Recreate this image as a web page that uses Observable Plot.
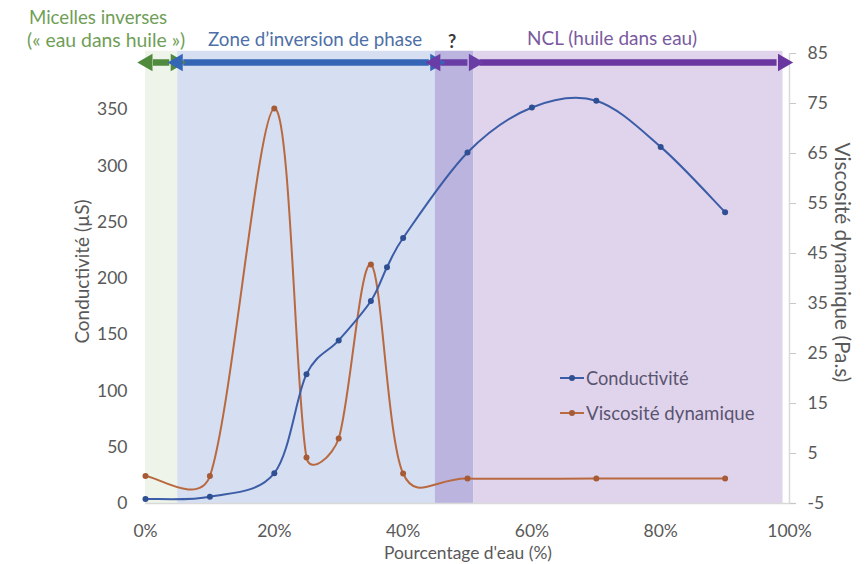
<!DOCTYPE html>
<html><head><meta charset="utf-8">
<script src="https://cdn.jsdelivr.net/npm/d3@7"></script>
<script src="https://cdn.jsdelivr.net/npm/@observablehq/plot@0.6"></script>
<style>
body{margin:0;background:#fff;font-family:Lato,"Open Sans",sans-serif;}
#wrap{position:relative;width:867px;height:564px;overflow:hidden;}
#wrap svg{position:absolute;left:0;top:0;}
.t{position:absolute;white-space:nowrap;line-height:1;font-size:20px;}
.leg{position:absolute;white-space:nowrap;color:#5a5470;display:flex;align-items:center;line-height:1;}
.sw{position:relative;width:24px;height:2px;margin-right:2px;}
.sw i{position:absolute;left:9px;top:-2px;width:6px;height:6px;border-radius:3px;}
</style></head><body>
<div id="wrap"></div>
<script>
// ---- data ----
const waterPct     = [0, 10, 20, 25, 30, 35, 37.5, 40, 50, 60, 70, 80, 90];
const conductivity = [4, 6, 27, 115, 145, 180, 210, 236, 312, 352, 358, 317, 259];
const viscPct      = [0, 10, 20, 25, 30, 35, 40, 50, 70, 90];
const viscosity    = [0.5, 0.5, 74, 4.2, 8, 42.8, 1, 0, 0, 0];
const leftTicks    = [0, 50, 100, 150, 200, 250, 300, 350];
const rightTicks   = [-5, 5, 15, 25, 35, 45, 55, 65, 75, 85];
const xTicks       = [0, 20, 40, 60, 80, 100];
const zoneStart    = [0, 5, 45, 51];
const zoneEnd      = [5, 45, 51, 99];
const arrowStart   = [0.3, 5, 45, 51];
const arrowEnd     = [4.7, 45, 51, 99];
const arrowBoth    = [true, true, true, false];

// ---- styles ----
const zoneFill  = ["#eef4e9", "#d6def1", "#bbb4de", "#e0d4ec"];
const arrowCol  = ["#4f8a3d", "#3566b6", "#6a3da6", "#6a36a0"];
const blue = "#3b5ca6", orange = "#b8693f";
const yMax = 400, rMin = -5, rMax = 85;
const toLeft = v => (v - rMin) * yMax / (rMax - rMin);
const arrowY = 392;

// Excel-like smoothed line: Bezier with 1/6 chord tangents, limited to half the segment
function excelSmooth(context) {
  let pts = [];
  return {
    areaStart() {}, areaEnd() {},
    lineStart() { pts = []; },
    point(x, y) { pts.push([+x, +y]); },
    lineEnd() {
      const n = pts.length;
      if (!n) return;
      context.moveTo(pts[0][0], pts[0][1]);
      const f = 1 / 6;
      const tan = pts.map((p, i) => {
        const a = pts[Math.max(i - 1, 0)], b = pts[Math.min(i + 1, n - 1)];
        return [(b[0] - a[0]) * f, (b[1] - a[1]) * f];
      });
      for (let i = 0; i < n - 1; i++) {
        const p = pts[i], q = pts[i + 1];
        const d = Math.hypot(q[0] - p[0], q[1] - p[1]);
        const lim = t => { const m = Math.hypot(t[0], t[1]); const s = m > d / 2 ? d / 2 / m : 1; return [t[0] * s, t[1] * s]; };
        const t1 = lim(tan[i]), t2 = lim(tan[i + 1]);
        context.bezierCurveTo(p[0] + t1[0], p[1] + t1[1], q[0] - t2[0], q[1] - t2[1], q[0], q[1]);
      }
    }
  };
}

const zones = zoneStart.map((s, i) => ({x1: s, x2: zoneEnd[i], fill: zoneFill[i]}));
const shafts = arrowStart.map((s, i) => ({x1: s, x2: arrowEnd[i], c: arrowCol[i]}));
const heads = [];
arrowStart.forEach((s, i) => {
  heads.push({x: arrowEnd[i], rot: 90, c: arrowCol[i]});
  if (arrowBoth[i]) heads.push({x: s, rot: -90, c: arrowCol[i]});
});
const cond = waterPct.map((x, i) => ({x, y: conductivity[i]}));
const visc = viscPct.map((x, i) => ({x, y: toLeft(viscosity[i])}));

const chart = Plot.plot({
  width: 867, height: 564,
  marginTop: 53, marginBottom: 61, marginLeft: 145, marginRight: 78,
  style: {fontFamily: "Lato, 'Open Sans', sans-serif", fontSize: "17.5px", color: "#595959", background: "transparent"},
  x: {domain: [0, 100]},
  y: {domain: [0, yMax]},
  marks: [
    Plot.rectX(zones, {x1: "x1", x2: "x2", y1: 0, y2: 402, fill: d => d.fill}),
    Plot.ruleY([0], {x1: 0, x2: 101, stroke: "#d9d9d9", strokeWidth: 1.5}),
    Plot.ruleX([100], {y1: 0, y2: yMax, stroke: "#d9d9d9", strokeWidth: 1.5}),
    Plot.axisY(leftTicks, {anchor: "left", tickSize: 0, tickPadding: 18, label: null}),
    Plot.axisY(rightTicks.map(toLeft), {anchor: "right", tickSize: 6, tickPadding: 12, stroke: "#c8c8c8",
      tickFormat: v => String(Math.round(v * (rMax - rMin) / yMax + rMin)), label: null}),
    Plot.axisX(xTicks, {anchor: "bottom", tickSize: 0, tickPadding: 21, tickFormat: d => d + "%", label: null}),
    Plot.ruleY(shafts, {y: arrowY, x1: "x1", x2: "x2", stroke: d => d.c, strokeWidth: 6.5, insetLeft: 6, insetRight: 6}),
    Plot.dot(heads, {x: "x", y: arrowY, symbol: "triangle", rotate: "rot", r: 6.5, fill: d => d.c}),
    Plot.line(visc, {x: "x", y: "y", stroke: orange, strokeWidth: 2, curve: excelSmooth}),
    Plot.dot(visc, {x: "x", y: "y", r: 3, fill: "#a65a35"}),
    Plot.line(cond, {x: "x", y: "y", stroke: blue, strokeWidth: 2, curve: excelSmooth}),
    Plot.dot(cond, {x: "x", y: "y", r: 3, fill: "#2f4f93"})
  ]
});
const wrap = document.getElementById("wrap");
wrap.appendChild(chart);

// text placed by its left edge (or centre) and fitted to the reference width
function addText(txt, o) {
  const d = document.createElement("div");
  d.className = "t"; d.textContent = txt;
  d.style.color = o.color;
  if (o.weight) d.style.fontWeight = o.weight;
  wrap.appendChild(d);
  let fs = 20;
  if (o.w) { fs = 20 * o.w / d.offsetWidth; }
  if (o.fs) fs = o.fs;
  d.style.fontSize = fs + "px";
  const w = d.offsetWidth, h = d.offsetHeight;
  if (o.rot) {
    d.style.left = (o.cx - w / 2) + "px";
    d.style.top = (o.cy - h / 2) + "px";
    d.style.transform = `rotate(${o.rot}deg)`;
  } else {
    const left = o.left !== undefined ? o.left : o.cx - w / 2;
    d.style.left = left + "px";
    d.style.top = (o.cy - h * 0.55) + "px";
  }
  return d;
}
addText("Micelles inverses", {left: 29, cy: 18, w: 138, color: "#6f9e57"});
addText("(« eau dans huile »)", {left: 27, cy: 40, w: 158, color: "#6f9e57"});
addText("Zone d’inversion de phase", {left: 208, cy: 40, w: 214, color: "#4e6fa7"});
addText("?", {cx: 452, cy: 42, fs: 18, weight: "bold", color: "#3a3a3a"});
addText("NCL (huile dans eau)", {left: 527, cy: 38, w: 170, color: "#7a5a9e"});
addText("Pourcentage d'eau (%)", {cx: 468, cy: 553, w: 168, color: "#595959"});
addText("Conductivité (µS)", {cx: 82, cy: 271, w: 144, rot: -90, color: "#595959"});
addText("Viscosité dynamique (Pa.s)", {cx: 843, cy: 262, w: 240, rot: 90, color: "#595959"});

function legend(label, col, dot, cy, w) {
  const d = document.createElement("div");
  d.className = "leg"; d.style.left = "560px";
  const sw = document.createElement("span"); sw.className = "sw"; sw.style.background = col;
  const i = document.createElement("i"); i.style.background = dot; sw.appendChild(i);
  const s = document.createElement("span"); s.textContent = label; s.style.fontSize = "20px";
  d.appendChild(sw); d.appendChild(s); wrap.appendChild(d);
  s.style.fontSize = (20 * w / s.offsetWidth) + "px";
  d.style.top = (cy - d.offsetHeight / 2) + "px";
}
legend("Conductivité", blue, "#2f4f93", 378, 103);
legend("Viscosité dynamique", orange, "#a65a35", 413, 169);
</script>
</body></html>
